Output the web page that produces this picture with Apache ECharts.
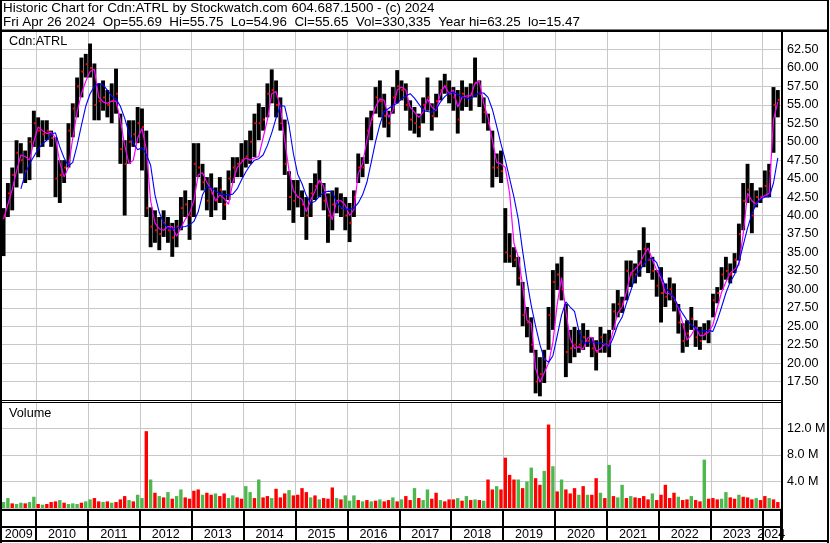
<!DOCTYPE html>
<html><head><meta charset="utf-8">
<script src="https://cdn.jsdelivr.net/npm/echarts@6/dist/echarts.min.js"></script>
<style>html,body{margin:0;padding:0;background:#fff}#c{width:830px;height:543px}</style>
</head><body><div id="c"></div>
<script>
// ---- data (monthly, May 2009 .. Apr 2024) ----
const FIRST_YEAR = 2009, FIRST_MONTH = 5;
const monthlyHigh = [
 41.0,44.4,46.5,50.2,49.8,48.8,50.6,54.2,
 53.3,52.9,52.9,51.5,50.6,47.5,47.5,52.5,55.2,58.7,61.4,61.9,
 63.3,60.6,57.9,58.3,57.0,57.9,59.9,53.8,50.2,52.9,52.9,54.7,
 54.5,51.5,41.1,40.7,39.8,40.7,39.8,39.0,39.4,42.5,43.4,42.1,
 49.8,49.8,47.0,45.2,45.7,43.8,45.2,43.4,46.1,47.9,47.9,49.8,
 50.2,51.5,53.8,55.2,54.7,57.9,59.8,58.3,56.0,53.0,46.0,44.8,
 44.8,43.4,42.5,44.4,45.7,47.5,44.4,43.0,43.4,43.8,43.0,42.5,
 41.7,43.4,48.4,47.9,53.3,54.2,57.4,58.3,56.5,54.2,57.4,59.7,
 58.3,57.9,55.6,54.7,53.8,56.0,58.7,55.2,56.5,58.3,59.2,58.3,
 57.4,57.0,58.3,57.4,57.9,61.4,58.3,56.0,53.8,51.5,48.4,48.8,
 41.0,37.6,35.7,34.4,31.0,27.6,26.2,21.8,20.8,21.8,27.6,32.6,
 33.5,34.4,28.0,24.5,24.9,24.5,25.4,24.5,23.5,23.1,24.9,24.0,
 24.5,28.1,29.9,29.0,33.9,33.9,33.5,35.3,38.4,36.3,34.4,32.6,
 33.0,30.8,31.6,30.8,28.0,25.4,25.8,27.6,25.8,24.9,25.4,25.8,
 29.4,30.3,33.0,34.4,33.5,34.9,38.9,44.4,47.0,44.4,43.4,43.8,
 46.1,47.0,57.4,57.0
];
const monthlyLow = [
 34.5,39.8,40.7,43.8,45.7,44.4,44.8,49.3,
 47.9,49.3,50.2,49.3,42.5,41.7,44.4,46.5,50.6,53.3,56.0,58.7,
 58.7,52.9,52.9,54.2,53.3,52.5,53.8,47.0,40.0,47.0,49.3,49.8,
 46.1,39.8,35.7,36.3,35.3,37.1,36.3,34.4,35.7,38.0,39.8,36.7,
 39.8,45.2,43.4,40.7,39.8,40.7,41.7,39.4,42.1,44.4,45.2,45.2,
 46.5,47.0,47.9,50.2,51.5,53.3,55.2,53.3,51.5,45.5,40.7,39.0,
 41.1,39.8,36.7,39.8,42.1,42.5,40.7,36.3,38.0,40.3,39.8,38.0,
 36.4,39.8,44.4,45.2,47.0,50.2,53.8,53.3,51.9,50.6,53.8,55.2,
 55.6,54.2,51.5,51.1,50.6,52.5,54.2,51.5,53.3,55.6,56.5,55.2,
 54.2,51.1,54.2,54.7,54.2,56.0,54.7,52.5,51.5,43.8,45.2,44.4,
 33.6,33.6,33.0,30.5,25.0,23.5,21.4,15.9,15.5,17.3,21.8,24.5,
 29.9,28.5,18.1,20.0,20.8,21.4,21.8,22.2,20.8,19.0,21.4,21.4,
 20.8,24.5,26.2,26.8,28.5,30.3,30.8,31.7,33.0,32.2,31.3,29.0,
 25.5,27.6,28.5,27.0,24.0,21.4,22.2,24.5,22.2,21.8,23.1,22.7,
 26.2,28.1,29.9,31.3,30.8,32.2,33.9,38.0,41.7,37.6,41.1,41.7,
 42.5,42.5,48.5,53.3
];
const monthlyClose = [
 40.0,43.0,45.5,48.5,47.5,46.0,50.0,52.5,
 51.5,51.0,51.5,50.5,45.0,45.5,46.5,51.5,54.5,57.5,59.5,60.5,
 60.0,55.0,55.5,56.0,55.0,55.5,56.5,49.0,47.0,50.0,51.0,52.5,
 52.0,41.0,38.5,38.0,37.5,39.0,38.0,37.0,38.5,41.0,41.5,40.0,
 47.0,46.5,44.5,42.0,43.0,42.0,43.5,41.5,45.0,46.5,47.0,47.5,
 48.0,50.0,52.5,52.5,53.0,56.5,57.0,55.0,52.5,47.0,42.5,42.0,
 42.5,41.5,40.0,43.0,44.0,44.5,42.0,40.0,41.5,42.0,41.0,40.0,
 39.0,42.5,46.5,46.5,51.5,53.0,56.0,55.5,53.5,52.5,56.0,57.5,
 57.0,55.0,53.0,52.5,52.0,55.0,56.0,53.5,55.5,57.0,57.5,56.5,
 56.0,53.0,56.5,56.0,56.5,58.0,56.5,54.0,52.5,46.5,46.5,46.0,
 35.0,34.5,34.0,31.5,26.5,25.5,22.5,17.5,18.5,20.5,26.5,31.0,
 32.0,30.0,21.5,22.0,22.5,22.5,23.5,23.0,22.0,21.5,23.5,22.5,
 23.0,27.0,28.0,28.0,32.5,32.0,32.0,33.5,35.5,34.0,32.5,30.5,
 29.5,29.0,30.0,28.5,25.5,23.0,24.0,26.0,23.5,23.0,24.0,24.5,
 28.5,29.5,32.0,32.5,32.0,34.0,37.5,42.0,43.5,40.0,42.5,42.5,
 44.0,46.0,55.0,55.65
];
const maShort = [
 39.5,41.5,43.5,46.0,48.2,48.0,47.5,50.0,
 52.0,51.5,51.1,51.3,50.5,47.2,45.2,46.5,50.5,54.0,56.5,58.2,
 59.5,59.8,56.0,55.4,55.2,55.5,55.5,53.0,49.5,47.0,47.5,50.5,
 51.8,49.0,42.0,39.0,38.2,38.0,38.5,38.5,37.2,38.3,39.5,40.3,
 42.0,45.5,45.8,44.5,43.5,42.0,42.8,42.3,41.5,44.5,46.5,47.2,
 47.8,47.5,47.8,48.0,50.5,53.0,56.5,56.8,54.7,50.2,46.1,43.4,
 42.5,42.2,40.5,42.1,43.3,44.8,44.0,41.1,39.4,42.0,42.0,41.4,
 40.0,40.8,45.7,47.0,50.2,52.9,54.7,55.8,55.6,53.3,54.2,57.0,
 57.4,57.0,54.7,54.0,53.3,54.0,55.8,54.7,54.2,56.5,57.6,56.5,
 57.0,54.7,56.0,56.2,56.2,57.9,58.2,55.2,53.3,50.2,47.2,47.0,
 46.5,43.0,36.2,34.4,30.5,25.8,25.4,19.3,17.4,18.7,20.0,22.8,
 28.0,31.6,27.0,23.3,22.0,22.2,21.9,23.4,23.5,21.6,21.9,22.6,
 22.3,24.5,26.8,27.6,29.6,32.2,32.7,33.4,34.6,35.6,34.0,32.6,
 31.5,29.5,29.4,28.9,27.5,25.4,23.1,23.8,24.9,23.7,23.8,24.2,
 25.2,27.5,29.6,31.0,32.2,32.7,33.3,37.5,43.0,42.0,41.5,42.3,
 42.7,43.0,53.0,55.4
];
const maLong = [
 null,null,null,null,43.6,45.6,47.0,48.0,
 49.0,49.7,50.2,51.0,51.2,49.3,47.8,46.7,47.2,49.5,52.2,54.8,
 56.5,57.5,57.9,57.7,57.0,56.2,55.8,54.8,53.2,51.2,49.8,48.9,
 49.2,48.3,46.8,42.8,40.4,39.0,38.3,38.1,38.3,38.4,38.5,38.7,
 39.2,40.5,42.8,43.9,43.8,43.3,43.0,42.8,42.8,42.9,43.6,44.8,
 45.9,46.8,47.5,47.7,48.2,49.5,51.2,53.2,54.9,54.8,52.2,48.4,
 45.6,44.3,42.7,41.7,41.9,42.6,43.1,43.3,43.2,41.8,41.1,40.9,
 40.8,41.0,41.7,42.8,44.5,47.2,50.0,52.3,54.1,54.5,54.9,55.2,
 55.8,56.2,56.5,55.9,55.1,54.2,54.1,54.0,54.4,55.4,56.1,56.6,
 56.7,56.4,56.1,55.9,55.8,56.3,56.6,56.6,56.0,54.4,52.1,49.7,
 47.5,45.0,42.5,39.5,35.2,31.2,27.8,25.0,22.5,20.6,20.1,21.0,
 23.7,26.5,28.3,27.6,27.0,24.4,22.7,22.8,22.9,22.8,22.7,22.6,
 22.2,23.5,25.2,26.2,28.1,29.8,31.6,32.5,33.4,34.1,34.2,33.6,
 32.0,30.3,29.5,28.9,27.7,26.7,25.8,25.2,24.7,24.2,24.4,24.4,
 24.3,25.8,27.6,29.5,31.0,32.0,33.6,36.0,38.3,40.2,41.6,42.2,
 42.5,42.5,44.4,47.8
];
const volumeM = [
 0.9,1.5,0.7,0.6,0.8,0.7,0.9,1.7,
 0.6,0.5,0.6,0.9,1.0,1.2,0.8,0.6,0.7,0.6,0.8,1.0,
 1.3,1.5,1.0,0.9,1.0,0.8,0.9,1.3,1.8,1.2,1.0,2.0,
 1.5,11.6,4.3,2.3,1.8,1.6,2.4,1.4,1.8,2.8,1.6,1.4,
 2.6,2.8,2.0,2.3,2.0,2.2,1.8,2.2,1.5,1.9,1.6,1.4,
 3.3,2.4,1.5,4.3,1.6,1.8,1.5,2.9,1.6,2.2,2.7,1.9,
 2.0,3.0,2.4,1.6,1.9,1.3,1.5,1.4,3.1,1.5,1.3,1.9,
 1.1,1.9,1.2,1.0,1.2,1.0,1.1,1.3,1.0,1.2,1.6,1.0,
 1.3,1.8,1.2,3.0,1.5,1.2,2.8,1.4,2.3,1.2,1.0,1.3,
 1.3,1.5,1.1,1.8,1.2,1.3,1.2,1.1,4.3,2.8,3.3,2.8,
 7.6,5.0,4.3,4.3,3.0,4.0,6.1,4.5,3.5,5.6,12.6,6.3,
 2.5,4.3,2.8,2.2,3.0,2.0,3.3,2.0,2.0,4.5,2.3,1.5,
 6.5,1.8,1.6,3.5,1.5,1.8,1.6,1.5,1.8,1.3,2.2,1.2,
 2.0,3.5,1.5,2.3,1.7,1.2,1.3,1.8,1.2,1.0,7.3,1.4,
 1.5,1.3,1.4,2.4,1.6,1.4,2.0,1.7,1.6,1.3,1.5,1.2,
 1.8,1.5,1.3,0.9
];
const volumeUp = [
 1,1,0,1,1,0,1,1,
 0,1,0,0,0,1,0,1,1,1,0,1,
 1,0,0,1,0,1,0,0,0,1,0,1,
 1,0,1,0,1,0,1,0,1,1,0,0,
 0,0,1,0,0,1,0,0,1,1,0,0,
 1,1,0,1,0,0,1,0,0,0,1,0,
 0,0,0,1,0,1,0,0,0,1,0,1,
 1,1,0,1,0,1,0,1,0,0,1,0,
 1,0,0,1,0,1,1,0,0,1,0,0,
 0,1,0,1,0,1,0,1,0,0,1,0,
 0,0,0,1,0,1,1,0,0,1,0,1,
 0,1,0,0,0,1,0,1,0,0,1,0,
 1,0,1,1,0,1,0,0,0,0,1,0,
 0,0,0,0,1,0,0,1,0,0,1,0,
 0,0,1,1,0,0,1,0,0,0,1,0,
 0,1,0,0
];
const yearLabels = [2009,2010,2011,2012,2013,2014,2015,2016,2017,2018,2019,2020,2021,2022,2023,2024];
const headerLine1 = 'Historic Chart for Cdn:ATRL by Stockwatch.com 604.687.1500 - (c) 2024';
const headerLine2 = 'Fri Apr 26 2024  Op=55.69  Hi=55.75  Lo=54.96  Cl=55.65  Vol=330,335  Year hi=63.25  lo=15.47';
const symbolName = 'Cdn:ATRL';
const volumeTitle = 'Volume';

// ---- build ----
const FONT = '"Liberation Sans", Arial, sans-serif';
const GREEN = '#4db84d', RED = '#ff0000', GRID = '#c8c8c8';
const N = monthlyHigh.length;
const tOf = i => FIRST_YEAR + (FIRST_MONTH - 1 + i + 0.5) / 12;
const DATA_START = FIRST_YEAR + (FIRST_MONTH - 1) / 12;
const DATA_END = FIRST_YEAR + (FIRST_MONTH - 1 + N) / 12;
const X_MIN = 2009, X_MAX = 2024.355;
const GL = -15.9, GR = 48.9;

const ohlc = monthlyHigh.map((h, i) => [tOf(i), monthlyLow[i], h, monthlyClose[i]]);
const maS = maShort.map((v, i) => [tOf(i), v]);
const maL = [];
maLong.forEach((v, i) => { if (v != null) maL.push([tOf(i), v]); });
const vol = volumeM.map((v, i) => ({ value: [tOf(i), v], itemStyle: { color: volumeUp[i] ? GREEN : RED } }));

function xAx(k, splitColor, w) {
  return { type: 'value', gridIndex: k, min: X_MIN, max: X_MAX, interval: 1,
    axisLine: { show: false }, axisTick: { show: false }, axisLabel: { show: false },
    splitLine: { show: true, lineStyle: { color: splitColor, width: w } } };
}
const gridCommon = { left: GL, right: GR, containLabel: false, outerBoundsMode: 'none', show: false };

const chart = echarts.init(document.getElementById('c'), null, { renderer: 'canvas', width: 830, height: 543 });
const rect = (x, y, w, h) => ({ type: 'rect', shape: { x, y, width: w, height: h }, style: { fill: '#000' }, z: 100, silent: true });
const option = {
  animation: false,
  backgroundColor: '#ffffff',
  grid: [
    Object.assign({ top: 31, height: 369 }, gridCommon),
    Object.assign({ top: 402, height: 106 }, gridCommon),
    Object.assign({ top: 510, height: 31 }, gridCommon)
  ],
  xAxis: [xAx(0, GRID, 1), xAx(1, GRID, 1), xAx(2, '#000', 2)],
  yAxis: [
    { type: 'value', gridIndex: 0, position: 'right', min: 15, max: 65, interval: 2.5,
      axisLine: { show: false }, axisTick: { show: false },
      axisLabel: { margin: 6, color: '#000', fontFamily: FONT, fontSize: 12.6,
        formatter: v => (v > 15 && v < 65) ? v.toFixed(2) : '' },
      splitLine: { show: true, lineStyle: { color: GRID, width: 1 } } },
    { type: 'value', gridIndex: 1, position: 'right', min: 0, max: 16, interval: 4,
      axisLine: { show: false }, axisTick: { show: false },
      axisLabel: { margin: 6, color: '#000', fontFamily: FONT, fontSize: 12.6,
        formatter: v => (v > 0 && v < 16) ? v.toFixed(1) + ' M' : '' },
      splitLine: { show: true, lineStyle: { color: GRID, width: 1 } } },
    { type: 'value', gridIndex: 2, min: 0, max: 1, show: false }
  ],
  series: [
    { type: 'custom', xAxisIndex: 0, yAxisIndex: 0, data: ohlc, encode: { x: 0, y: [1, 2] }, z: 2, silent: true,
      renderItem: (params, api) => {
        const t = api.value(0);
        const pH = api.coord([t, api.value(2)]), pL = api.coord([t, api.value(1)]), pC = api.coord([t, api.value(3)]);
        const w = api.size([1 / 12, 0])[0] * 0.9;
        return { type: 'group', children: [
          { type: 'rect', shape: { x: pH[0] - w / 2, y: pH[1], width: w, height: Math.max(1, pL[1] - pH[1]) }, style: { fill: '#000' } },
          { type: 'rect', shape: { x: pC[0] + w / 2 - 2, y: pC[1] - 1, width: 2, height: 2 }, style: { fill: '#ff0000' } }
        ] };
      } },
    { type: 'line', xAxisIndex: 0, yAxisIndex: 0, data: maS, showSymbol: false, symbol: 'none', z: 3, silent: true,
      lineStyle: { color: '#ff00ff', width: 1.2 } },
    { type: 'line', xAxisIndex: 0, yAxisIndex: 0, data: maL, showSymbol: false, symbol: 'none', z: 4, silent: true,
      lineStyle: { color: '#0000ff', width: 1.1 } },
    { type: 'bar', xAxisIndex: 1, yAxisIndex: 1, data: vol, barWidth: 3.4, silent: true },
    { type: 'custom', xAxisIndex: 2, yAxisIndex: 2, data: yearLabels.map(y => [y]), clip: false, silent: true,
      renderItem: (params, api) => {
        const y = api.value(0);
        const a = Math.max(y, DATA_START), b = Math.min(y + 1, DATA_END);
        const p1 = api.coord([a, 0]), p2 = api.coord([b, 0]);
        return { type: 'text', x: (p1[0] + p2[0]) / 2, y: p1[1] - 6,
          style: { text: String(y), fill: '#000', font: '12.6px ' + FONT, textAlign: 'center', textVerticalAlign: 'middle' } };
      } }
  ],
  graphic: { elements: [
    { type: 'text', x: 3, y: 8, z: 100, silent: true, style: { text: headerLine1, fill: '#000', font: '13.4px ' + FONT, textVerticalAlign: 'middle' } },
    { type: 'text', x: 3, y: 22, z: 100, silent: true, style: { text: headerLine2, fill: '#000', font: '13.4px ' + FONT, textVerticalAlign: 'middle' } },
    { type: 'text', x: 9, y: 41.5, z: 100, silent: true, style: { text: symbolName, fill: '#000', font: '12.7px ' + FONT, textVerticalAlign: 'middle' } },
    { type: 'text', x: 9, y: 413.8, z: 100, silent: true, style: { text: volumeTitle, fill: '#000', font: '12.7px ' + FONT, textVerticalAlign: 'middle' } },
    rect(0, 0, 2, 543), rect(827, 0, 2, 543), rect(0, 0, 829, 1), rect(0, 540, 829, 2),
    rect(0, 29.5, 829, 2.5), rect(781, 31, 2, 511),
    rect(0, 400, 782, 1), rect(0, 402, 782, 1),
    rect(0, 509, 782, 2), rect(0, 526, 782, 2)
  ] }
};
chart.setOption(option);
</script>
</body></html>
